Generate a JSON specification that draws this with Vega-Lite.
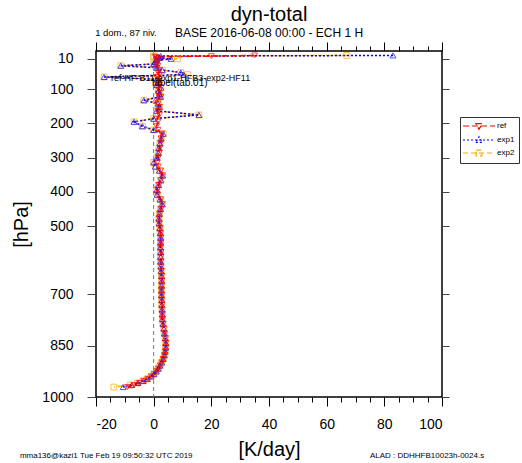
{
  "$schema": "https://vega.github.io/schema/vega-lite/v6.json",
  "width": 346,
  "height": 346,
  "autosize": {"type": "none"},
  "padding": {"left": 96, "top": 51, "right": 80, "bottom": 66},
  "background": "white",
  "title": {
    "text": "dyn-total",
    "subtitle": "BASE 2016-06-08 00:00 - ECH 1 H",
    "font": "Liberation Sans",
    "subtitleFont": "Liberation Sans",
    "fontSize": 20,
    "subtitleFontSize": 12,
    "fontWeight": "normal",
    "color": "#000",
    "subtitleColor": "#000",
    "anchor": "middle",
    "offset": -11,
    "subtitlePadding": 3
  },
  "datasets": {
    "levels": [
      {"p": 1, "ref": 35, "exp1": 83, "exp2": 67},
      {"p": 3, "ref": 20, "exp1": 2.4, "exp2": 0},
      {"p": 5, "ref": 0.5, "exp1": 1.5, "exp2": 0},
      {"p": 8, "ref": 1, "exp1": 2, "exp2": 1},
      {"p": 11, "ref": 1.5, "exp1": 6, "exp2": 8.2},
      {"p": 15, "ref": 1, "exp1": 1, "exp2": 1},
      {"p": 20, "ref": 1.5, "exp1": 0.5, "exp2": 0.5},
      {"p": 26, "ref": 1, "exp1": 0, "exp2": 0},
      {"p": 31, "ref": 1.5, "exp1": -11.4, "exp2": -11.4},
      {"p": 37, "ref": 1, "exp1": 1, "exp2": 1},
      {"p": 44, "ref": 2, "exp1": 3, "exp2": 3},
      {"p": 51, "ref": 1.5, "exp1": 9.4, "exp2": 9.4},
      {"p": 57, "ref": 2, "exp1": 10.4, "exp2": 11.7},
      {"p": 64, "ref": 1, "exp1": -17.2, "exp2": -17.2},
      {"p": 71, "ref": 2, "exp1": 1, "exp2": 1},
      {"p": 79, "ref": 1.5, "exp1": 2, "exp2": 2},
      {"p": 87, "ref": 2, "exp1": 1, "exp2": 1},
      {"p": 95, "ref": 1.5, "exp1": 2.5, "exp2": 2.5},
      {"p": 104, "ref": 2, "exp1": 1.7, "exp2": 1.7},
      {"p": 113, "ref": 1.5, "exp1": 2, "exp2": 2},
      {"p": 122, "ref": 2.5, "exp1": 2.4, "exp2": 2.4},
      {"p": 132, "ref": 1, "exp1": -3.4, "exp2": -3.4},
      {"p": 142, "ref": 1.5, "exp1": 1.5, "exp2": 1.5},
      {"p": 152, "ref": 2, "exp1": 2, "exp2": 2},
      {"p": 163, "ref": 1.5, "exp1": 1, "exp2": 1},
      {"p": 175, "ref": 2, "exp1": 15.7, "exp2": 15.7},
      {"p": 186, "ref": 1, "exp1": 0, "exp2": 0},
      {"p": 195, "ref": 1.5, "exp1": -6.8, "exp2": -6.8},
      {"p": 208, "ref": 1, "exp1": -3.9, "exp2": -3.9},
      {"p": 219, "ref": 1.5, "exp1": 0, "exp2": 0},
      {"p": 230, "ref": 2.8, "exp1": 3.3, "exp2": 3.3},
      {"p": 244, "ref": 2.6, "exp1": 2.6, "exp2": 2.6},
      {"p": 258, "ref": 2.4, "exp1": 2.2, "exp2": 2.2},
      {"p": 272, "ref": 2.1, "exp1": 1.8, "exp2": 1.8},
      {"p": 286, "ref": 2.0, "exp1": 1.6, "exp2": 1.6},
      {"p": 300, "ref": 1.6, "exp1": 1.1, "exp2": 1.1},
      {"p": 314, "ref": 1.3, "exp1": 0, "exp2": 0},
      {"p": 326, "ref": 1.6, "exp1": 0.6, "exp2": 0.6},
      {"p": 338, "ref": 2.5, "exp1": 2, "exp2": 2},
      {"p": 352, "ref": 3, "exp1": 3.1, "exp2": 3.1},
      {"p": 366, "ref": 2.4, "exp1": 2.5, "exp2": 2.5},
      {"p": 380, "ref": 1.8, "exp1": 1.7, "exp2": 1.7},
      {"p": 394, "ref": 1.3, "exp1": 1.1, "exp2": 1.1},
      {"p": 408, "ref": 1.4, "exp1": 1.2, "exp2": 1.2},
      {"p": 422, "ref": 2.5, "exp1": 2.2, "exp2": 2.2},
      {"p": 436, "ref": 3, "exp1": 3, "exp2": 3},
      {"p": 450, "ref": 2.5, "exp1": 2.4, "exp2": 2.4},
      {"p": 464, "ref": 2.1, "exp1": 2, "exp2": 2},
      {"p": 478, "ref": 1.9, "exp1": 1.8, "exp2": 1.8},
      {"p": 492, "ref": 2.0, "exp1": 1.9, "exp2": 1.9},
      {"p": 506, "ref": 2.3, "exp1": 2.1, "exp2": 2.1},
      {"p": 520, "ref": 2.4, "exp1": 2.3, "exp2": 2.3},
      {"p": 534, "ref": 2.5, "exp1": 2.4, "exp2": 2.4},
      {"p": 548, "ref": 2.5, "exp1": 2.4, "exp2": 2.4},
      {"p": 562, "ref": 2.4, "exp1": 2.3, "exp2": 2.3},
      {"p": 576, "ref": 2.6, "exp1": 2.4, "exp2": 2.4},
      {"p": 590, "ref": 2.5, "exp1": 2.4, "exp2": 2.4},
      {"p": 604, "ref": 2.5, "exp1": 2.4, "exp2": 2.4},
      {"p": 618, "ref": 2.6, "exp1": 2.5, "exp2": 2.5},
      {"p": 632, "ref": 2.7, "exp1": 2.6, "exp2": 2.6},
      {"p": 646, "ref": 2.8, "exp1": 2.7, "exp2": 2.7},
      {"p": 660, "ref": 2.8, "exp1": 2.8, "exp2": 2.8},
      {"p": 674, "ref": 2.8, "exp1": 2.7, "exp2": 2.7},
      {"p": 688, "ref": 2.7, "exp1": 2.7, "exp2": 2.7},
      {"p": 702, "ref": 2.8, "exp1": 2.7, "exp2": 2.7},
      {"p": 716, "ref": 2.8, "exp1": 2.8, "exp2": 2.8},
      {"p": 730, "ref": 2.9, "exp1": 2.8, "exp2": 2.8},
      {"p": 744, "ref": 2.9, "exp1": 2.9, "exp2": 2.9},
      {"p": 758, "ref": 3.0, "exp1": 3.0, "exp2": 3.0},
      {"p": 772, "ref": 3.1, "exp1": 3.0, "exp2": 3.0},
      {"p": 786, "ref": 3.3, "exp1": 3.2, "exp2": 3.2},
      {"p": 800, "ref": 3.6, "exp1": 3.5, "exp2": 3.5},
      {"p": 814, "ref": 3.8, "exp1": 3.7, "exp2": 3.7},
      {"p": 828, "ref": 4.1, "exp1": 4.0, "exp2": 4.0},
      {"p": 842, "ref": 4.2, "exp1": 4.2, "exp2": 4.2},
      {"p": 855, "ref": 4.2, "exp1": 4.2, "exp2": 4.2},
      {"p": 867, "ref": 4.1, "exp1": 4.0, "exp2": 4.0},
      {"p": 878, "ref": 3.8, "exp1": 3.7, "exp2": 3.7},
      {"p": 889, "ref": 3.3, "exp1": 3.3, "exp2": 3.3},
      {"p": 899, "ref": 2.8, "exp1": 2.8, "exp2": 2.8},
      {"p": 908, "ref": 2.3, "exp1": 2.2, "exp2": 2.2},
      {"p": 917, "ref": 1.7, "exp1": 1.6, "exp2": 1.6},
      {"p": 925, "ref": 1.0, "exp1": 0.9, "exp2": 0.9},
      {"p": 933, "ref": 0.2, "exp1": 0.1, "exp2": 0.1},
      {"p": 940, "ref": -0.8, "exp1": -0.9, "exp2": -0.9},
      {"p": 947, "ref": -2.0, "exp1": -2.2, "exp2": -2.2},
      {"p": 953, "ref": -3.4, "exp1": -3.6, "exp2": -3.7},
      {"p": 959, "ref": -5.0, "exp1": -5.4, "exp2": -5.6},
      {"p": 965, "ref": -6.8, "exp1": -7.6, "exp2": -8.2},
      {"p": 971, "ref": -9.1, "exp1": -10.6, "exp2": -13.8}
    ]
  },
  "resolve": {"axis": {"x": "independent", "y": "independent"}},
  "layer": [
    {
      "data": {"values": [{}]},
      "mark": {"type": "rule", "color": "#777", "strokeDash": [4, 3], "strokeWidth": 1},
      "encoding": {"x": {"datum": 0, "type": "quantitative", "axis": null}}
    },
    {
      "data": {"name": "levels"},
      "transform": [{"fold": ["exp2", "exp1", "ref"], "as": ["series", "v"]}],
      "mark": {"type": "line", "strokeWidth": 1.5},
      "encoding": {
        "x": {
          "field": "v", "type": "quantitative",
          "scale": {"domain": [-20, 100], "nice": false, "zero": false},
          "axis": {
            "orient": "bottom",
            "values": [-20, 0, 20, 40, 60, 80, 100],
            "ticks": true,
            "tickSize": 9,
            "labelExpr": "'' + datum.value",
            "labelOverlap": false,
            "labelFontSize": 14,
            "labelPadding": 11,
            "title": "[K/day]",
            "titleFontSize": 20,
            "titlePadding": 8
          }
        },
        "y": {
          "field": "p", "type": "quantitative",
          "scale": {"domain": [-12, 1000], "reverse": true, "nice": false, "zero": false},
          "axis": {
            "orient": "left",
            "values": [10, 100, 200, 300, 400, 500, 700, 850, 1000],
            "format": "d",
            "ticks": true,
            "tickSize": 9,
            "tickColor": "#444",
            "labelFontSize": 14,
            "labelPadding": 14,
            "labelOverlap": false,
            "title": "[hPa]",
            "titleFontSize": 20,
            "titlePadding": 10
          }
        },
        "color": {
          "field": "series", "type": "nominal",
          "scale": {"domain": ["ref", "exp1", "exp2"], "range": ["#ff0000", "#0000ff", "#ffa500"]},
          "legend": {
            "orient": "none",
            "legendX": 364,
            "legendY": 66,
            "title": null,
            "strokeColor": "#333",
            "fillColor": "#ffffff",
            "padding": 4,
            "symbolSize": 64,
            "symbolOffset": 10,
            "labelOffset": 13,
            "labelFontSize": 8,
            "labelFont": "Liberation Sans",
            "labelColor": "#000",
            "rowPadding": 2,
            "symbolStrokeWidth": 1.2,
            "encode": {
              "symbols": {
                "update": {
                  "shape": {"signal": "datum.value === 'ref' ? 'M-4,0H4M-0.8,-0.6L0.8,-0.6L0,0.8Z' : datum.value === 'exp1' ? 'M-4,0H4M-0.8,0.6L0.8,0.6L0,-0.8Z' : 'M-4,0H4M-0.7,-0.7H0.7V0.7H-0.7Z'"},
                  "strokeDash": {"signal": "datum.value === 'ref' ? [6,3] : datum.value === 'exp1' ? [2,2] : [5,3]"},
                  "fill": {"value": "transparent"}
                }
              }
            }
          }
        },
        "strokeDash": {
          "field": "series", "type": "nominal",
          "scale": {"domain": ["ref", "exp1", "exp2"], "range": [[6, 3], [2, 2], [5, 3]]},
          "legend": null
        },
        "order": {"field": "p", "type": "quantitative"}
      }
    },
    {
      "data": {"name": "levels"},
      "transform": [{"fold": ["exp2"], "as": ["series", "v"]}],
      "mark": {"type": "point", "shape": "square", "filled": false, "size": 34, "strokeWidth": 1},
      "encoding": {
        "x": {
          "field": "v", "type": "quantitative",
          "axis": {"orient": "top", "values": [-20, 0, 20, 40, 60, 80, 100], "ticks": true, "tickSize": 9, "labels": false, "title": null}
        },
        "y": {
          "field": "p", "type": "quantitative",
          "axis": {"orient": "right", "values": [10, 100, 200, 300, 400, 500, 700, 850, 1000], "ticks": true, "tickSize": 7, "tickColor": "#444", "labels": false, "title": null}
        },
        "color": {"field": "series", "type": "nominal"}
      }
    },
    {
      "data": {"name": "levels"},
      "transform": [{"fold": ["exp1"], "as": ["series", "v"]}],
      "mark": {"type": "point", "shape": "triangle-up", "filled": false, "size": 34, "strokeWidth": 1},
      "encoding": {
        "x": {
          "field": "v", "type": "quantitative",
          "axis": {"orient": "bottom", "values": [-15, -10, -5, 5, 10, 15, 25, 30, 35, 45, 50, 55, 65, 70, 75, 85, 90, 95], "ticks": true, "tickSize": 5, "labels": false, "title": null}
        },
        "y": {"field": "p", "type": "quantitative", "axis": null},
        "color": {"field": "series", "type": "nominal"}
      }
    },
    {
      "data": {"name": "levels"},
      "transform": [{"fold": ["ref"], "as": ["series", "v"]}],
      "mark": {"type": "point", "shape": "triangle-down", "filled": false, "size": 34, "strokeWidth": 1},
      "encoding": {
        "x": {
          "field": "v", "type": "quantitative",
          "axis": {"orient": "top", "values": [-15, -10, -5, 5, 10, 15, 25, 30, 35, 45, 50, 55, 65, 70, 75, 85, 90, 95], "ticks": true, "tickSize": 5, "labels": false, "title": null}
        },
        "y": {"field": "p", "type": "quantitative", "axis": null},
        "color": {"field": "series", "type": "nominal"}
      }
    },
    {
      "data": {"values": [{}]},
      "mark": {"type": "text", "text": "1 dom., 87 niv.", "align": "left", "baseline": "alphabetic", "fontSize": 9.5, "font": "Liberation Sans", "color": "#000"},
      "encoding": {"x": {"datum": -20.3, "type": "quantitative", "axis": null}, "y": {"datum": -56, "type": "quantitative", "axis": null}}
    },
    {
      "data": {"values": [{}]},
      "mark": {"type": "text", "text": "ref-HF-B11-exp1-HFB3-exp2-HF11", "align": "left", "baseline": "alphabetic", "fontSize": 9, "font": "Liberation Sans", "color": "#000"},
      "encoding": {"x": {"datum": -14.8, "type": "quantitative", "axis": null}, "y": {"datum": 75.7, "type": "quantitative", "axis": null}}
    },
    {
      "data": {"values": [{}]},
      "mark": {"type": "text", "text": "label(tab.01)", "align": "left", "baseline": "alphabetic", "fontSize": 10, "font": "Liberation Sans", "color": "#000"},
      "encoding": {"x": {"datum": -0.6, "type": "quantitative", "axis": null}, "y": {"datum": 91.8, "type": "quantitative", "axis": null}}
    },
    {
      "data": {"values": [{}]},
      "mark": {"type": "text", "text": "mma136@kazi1 Tue Feb 19 09:50:32 UTC 2019", "align": "left", "baseline": "alphabetic", "fontSize": 8, "font": "Liberation Sans", "color": "#000"},
      "encoding": {"x": {"datum": -46.4, "type": "quantitative", "axis": null}, "y": {"datum": 1178, "type": "quantitative", "axis": null}}
    },
    {
      "data": {"values": [{}]},
      "mark": {"type": "text", "text": "ALAD : DDHHFB10023h-0024.s", "align": "left", "baseline": "alphabetic", "fontSize": 8, "font": "Liberation Sans", "color": "#000"},
      "encoding": {"x": {"datum": 75, "type": "quantitative", "axis": null}, "y": {"datum": 1178, "type": "quantitative", "axis": null}}
    }
  ],
  "config": {
    "view": {"stroke": "#000", "strokeWidth": 1.5},
    "font": "Liberation Sans",
    "axis": {
      "grid": false,
      "domain": false,
      "tickColor": "#000",
      "tickWidth": 1,
      "labelFont": "Liberation Sans",
      "titleFont": "Liberation Sans",
      "labelColor": "#000",
      "titleColor": "#000",
      "titleFontWeight": "normal"
    }
  }
}
